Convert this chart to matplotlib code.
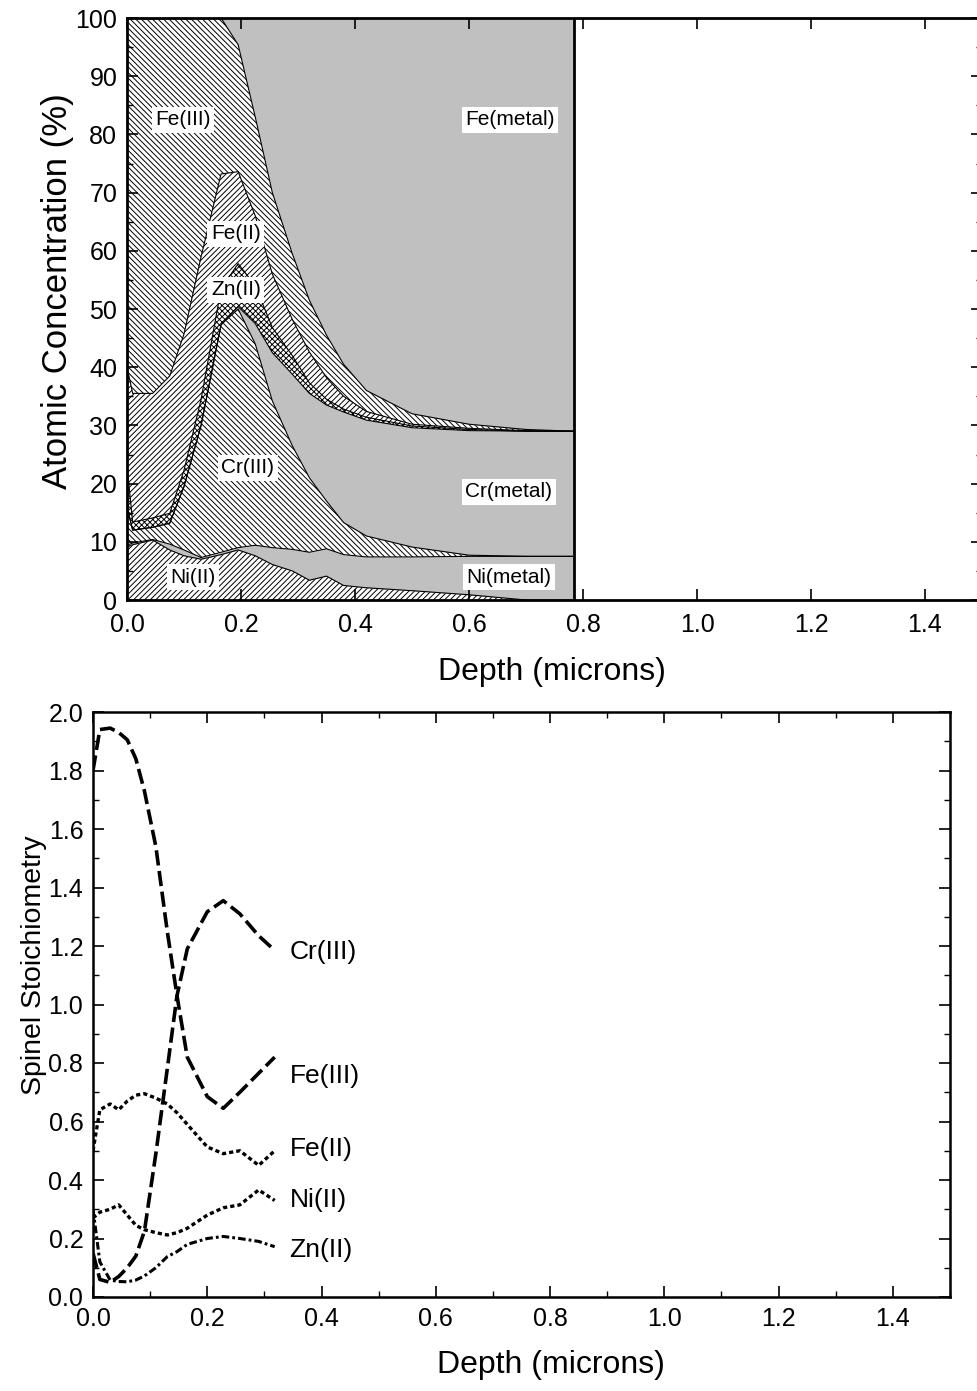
import matplotlib
matplotlib.use('Agg')
import matplotlib.pyplot as plt
import numpy as np
from matplotlib.ticker import MultipleLocator, FormatStrFormatter

plt.rcParams['font.family'] = ['Liberation Sans', 'DejaVu Sans']
plt.rcParams['hatch.linewidth'] = 0.7
plt.rcParams['lines.scale_dashes'] = False

# --- top panel: atomic concentration (%) per species vs depth (microns)
depth = [0.0, 0.01, 0.045, 0.075, 0.10, 0.13, 0.165, 0.195, 0.225, 0.255,
         0.29, 0.32, 0.35, 0.38, 0.42, 0.50, 0.60, 0.70, 0.785]
ni2 = [9.1, 9.5, 10.3, 8.6, 7.6, 7.0, 7.8, 8.6, 7.6, 6.1, 5.0, 3.4, 4.1, 2.5, 2.1, 1.6, 0.9, 0.0, 0.0]
ni_metal = [0.3, 0.3, 0.1, 1.0, 1.0, 0.3, 0.4, 0.4, 1.8, 2.9, 3.7, 4.8, 4.7, 5.3, 5.3, 5.8, 6.6, 7.5, 7.5]
cr3 = [6.6, 2.2, 2.1, 3.6, 10.9, 22.7, 39.1, 41.0, 34.6, 25.2, 17.8, 12.8, 8.2, 5.5, 3.6, 1.7, 0.2, 0.0, 0.0]
cr_metal = [0, 0, 0, 0, 0, 0, 0, 0.4, 3.5, 8.3, 12.3, 14.5, 16.5, 19.0, 19.9, 20.5, 21.4, 21.5, 21.5]
zn2 = [7.0, 1.4, 1.6, 1.7, 2.8, 4.5, 6.2, 7.4, 6.5, 4.3, 3.2, 1.8, 1.0, 0.5, 0.5, 0.3, 0.2, 0.0, 0.0]
fe2 = [17.0, 22.1, 21.4, 23.6, 23.4, 24.5, 19.7, 15.8, 12.0, 9.2, 6.2, 5.3, 3.7, 2.2, 1.0, 0.3, 0.2, 0.1, 0.0]
fe3 = [60.0, 64.5, 64.3, 61.5, 54.3, 41.0, 26.8, 21.8, 17.0, 14.0, 11.3, 8.9, 7.3, 5.5, 3.6, 1.8, 0.7, 0.2, 0.0]
fe_metal = [0, 0, 0.2, 0, 0, 0, 0, 4.6, 17.0, 30.0, 40.5, 48.5, 54.5, 59.5, 64.0, 68.0, 69.8, 70.7, 71.0]

top_labels = ['Ni(II)', 'Ni(metal)', 'Cr(III)', 'Cr(metal)', 'Zn(II)', 'Fe(II)', 'Fe(III)', 'Fe(metal)']
top_label_pos = [(0.116, 3.9), (0.670, 3.9), (0.212, 22.7), (0.670, 18.6),
                 (0.191, 53.3), (0.191, 62.9), (0.098, 82.5), (0.672, 82.5)]

# --- bottom panel: spinel stoichiometry vs depth
sdepth = [0.0, 0.012, 0.03, 0.045, 0.06, 0.075, 0.09, 0.11, 0.13, 0.147,
          0.165, 0.2, 0.228, 0.257, 0.29, 0.318]
s_cr3 = [0.15, 0.06, 0.05, 0.07, 0.10, 0.14, 0.225, 0.49, 0.78, 1.03, 1.19, 1.317, 1.355, 1.31, 1.235, 1.185]
s_fe3 = [1.80, 1.94, 1.945, 1.93, 1.905, 1.84, 1.73, 1.54, 1.25, 1.03, 0.82, 0.685, 0.645, 0.70, 0.765, 0.82]
s_fe2 = [0.50, 0.64, 0.66, 0.64, 0.67, 0.69, 0.695, 0.68, 0.66, 0.63, 0.59, 0.513, 0.49, 0.50, 0.45, 0.50]
s_ni2 = [0.27, 0.29, 0.30, 0.315, 0.28, 0.245, 0.23, 0.22, 0.212, 0.22, 0.235, 0.28, 0.305, 0.315, 0.366, 0.33]
s_zn2 = [0.30, 0.12, 0.058, 0.053, 0.052, 0.058, 0.072, 0.10, 0.138, 0.155, 0.18, 0.20, 0.207, 0.20, 0.19, 0.172]

fig = plt.figure(figsize=(9.77, 13.91), dpi=100)

# ---------------- top panel
ax1 = fig.add_axes([127/977, 1-600/1391, 855/977, 582/1391])
grey = '#c0c0c0'
layers = [(ni2, 'white', '//////'), (ni_metal, grey, None),
          (cr3, 'white', '\\' * 6), (cr_metal, grey, None),
          (zn2, 'white', 'x' * 6), (fe2, 'white', '//////'),
          (fe3, 'white', '\\' * 6), (fe_metal, grey, None)]
d = np.array(depth)
base = np.zeros(len(depth))
for vals, fc, h in layers:
    top = base + np.array(vals)
    ax1.fill_between(d, base, top, facecolor=fc, hatch=h, edgecolor='black', linewidth=0)
    if vals is not fe_metal:
        ax1.plot(d, top, color='black', lw=0.8)
    base = top
ax1.axvline(depth[-1], color='black', lw=2)

for name, (x, y) in zip(top_labels, top_label_pos):
    ax1.text(x, y, name, fontsize=15, ha='center', va='center',
             bbox=dict(facecolor='white', edgecolor='none', pad=2.5))

ax1.set_xlim(0, 1.5)
ax1.set_ylim(0, 100)
ax1.xaxis.set_major_locator(MultipleLocator(0.2))
ax1.xaxis.set_major_formatter(FormatStrFormatter('%.1f'))
ax1.yaxis.set_major_locator(MultipleLocator(10))
ax1.yaxis.set_minor_locator(MultipleLocator(5))
ax1.tick_params(which='both', direction='in', top=True, right=True, labelsize=18)
ax1.tick_params(which='major', length=8, width=1.2, pad=7)
ax1.tick_params(axis='x', which='major', pad=9)
ax1.tick_params(which='minor', length=4, width=1.0)
for s in ax1.spines.values():
    s.set_linewidth(2)
    s.set_zorder(5)
ax1.set_xlabel('Depth (microns)', fontsize=23)
ax1.xaxis.set_label_coords(0.497, -0.098)
ax1.set_ylabel('Atomic Concentration (%)', fontsize=25)
ax1.yaxis.set_label_coords(-0.062, 0.53)

# ---------------- bottom panel
ax2 = fig.add_axes([93/977, 1-1297/1391, 857/977, 585/1391])
long_dash = (0, (11, 4))
short_dash = (0, (3, 2.2))
dash_dot = (0, (5.5, 2.2, 2, 2.2))
series = [(s_cr3, long_dash, 2.6, 'Cr(III)'), (s_fe3, long_dash, 2.6, 'Fe(III)'),
          (s_fe2, short_dash, 2.4, 'Fe(II)'), (s_ni2, short_dash, 2.4, 'Ni(II)'),
          (s_zn2, dash_dot, 2.2, 'Zn(II)')]
label_y = [1.18, 0.756, 0.506, 0.33, 0.16]
for (vals, ls, lw, name), ly in zip(series, label_y):
    ax2.plot(sdepth, vals, color='black', lw=lw, linestyle=ls)
    ax2.text(0.344, ly, name, fontsize=19, ha='left', va='center')

ax2.set_xlim(0, 1.5)
ax2.set_ylim(0, 2.0)
ax2.xaxis.set_major_locator(MultipleLocator(0.2))
ax2.xaxis.set_minor_locator(MultipleLocator(0.1))
ax2.yaxis.set_major_locator(MultipleLocator(0.2))
ax2.yaxis.set_minor_locator(MultipleLocator(0.1))
ax2.xaxis.set_major_formatter(FormatStrFormatter('%.1f'))
ax2.yaxis.set_major_formatter(FormatStrFormatter('%.1f'))
ax2.tick_params(which='both', direction='in', top=True, right=True, labelsize=18)
ax2.tick_params(which='major', length=8, width=1.2, pad=7)
ax2.tick_params(which='minor', length=4, width=1.0)
for s in ax2.spines.values():
    s.set_linewidth(1.8)
ax2.set_xlabel('Depth (microns)', fontsize=23)
ax2.xaxis.set_label_coords(0.534, -0.09)
ax2.set_ylabel('Spinel Stoichiometry', fontsize=20.5)
ax2.yaxis.set_label_coords(-0.054, 0.567)

fig.savefig('out.png', dpi=100)
